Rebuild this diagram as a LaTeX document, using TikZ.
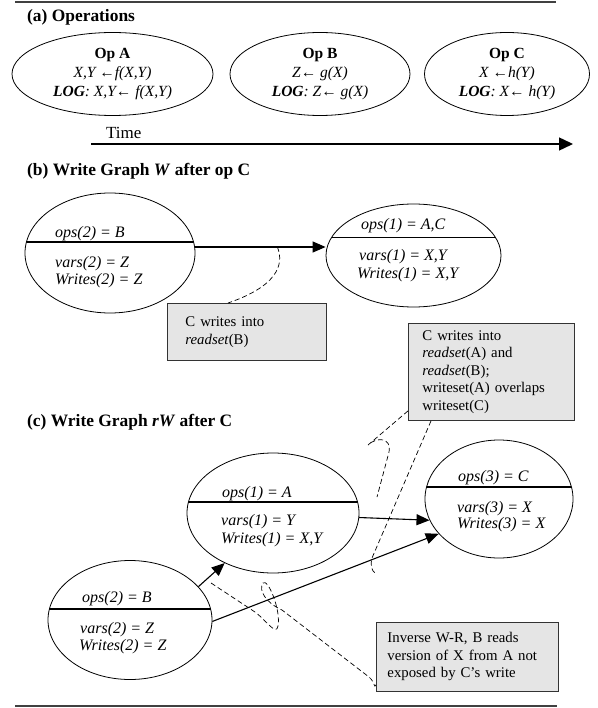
\documentclass[tikz,border=0pt]{standalone}
\usepackage{fontspec}
\setmainfont{Liberation Serif}
\usepackage{tikz}
\usetikzlibrary{shapes.geometric,arrows.meta,positioning}

\begin{document}
\begin{tikzpicture}[
    x=1pt, y=-1pt,
    opnode/.style={ellipse, draw, line width=0.8pt, inner sep=0pt, minimum height=83pt, align=center, font=\fontsize{15.5}{19}\selectfont},
    splitop/.style={ellipse, draw, line width=0.8pt, inner sep=0pt, path picture={\draw[line width=1.1pt] ([yshift=#1]path picture bounding box.west) -- ([yshift=#1]path picture bounding box.east);}},
    optext/.style={anchor=base west, inner sep=0pt, font=\fontsize{16}{19}\selectfont\itshape},
    title/.style={anchor=base west, inner sep=0pt, font=\fontsize{17.4}{21}\selectfont\bfseries},
    notebox/.style={draw=black!80, line width=0.9pt, fill=black!10, anchor=north west, inner xsep=14pt, inner ysep=4pt, align=left, font=\fontsize{14.8}{17.5}\selectfont},
    arr/.style={-{Triangle[length=13pt, width=11pt]}, line width=1.1pt},
    callout/.style={dash pattern=on 5pt off 3pt, line width=0.7pt},
    rule/.style={line width=1.6pt, black!75}
]
\useasboundingbox (0,0) rectangle (597,708);

% frame rules
\draw[rule] (15,2) -- (556,2);
\draw[rule] (15,706) -- (557,706);

% (a) operations
\node[title] (ta) at (27,22) {(a) Operations};
\node[opnode, minimum width=201pt] (opA) at (112.5,74) {\textbf{Op A}\\\textit{X,Y ←f(X,Y)}\\\textit{\textbf{LOG}: X,Y← f(X,Y)}};
\node[opnode, minimum width=180pt] (opB) at (320,74) {\textbf{Op B}\\\textit{Z← g(X)}\\\textit{\textbf{LOG}: Z←  g(X)}};
\node[opnode, minimum width=165pt] (opC) at (507,74) {\textbf{Op C}\\\textit{X ←h(Y)}\\\textit{\textbf{LOG}: X← h(Y)}};

\node[anchor=base west, inner sep=0pt, font=\fontsize{17}{20}\selectfont] (time) at (106,139) {Time};
\coordinate (t0) at (91,144);
\coordinate (t1) at (573,144);
\draw[-{Triangle[length=14pt, width=13pt]}, line width=1.4pt] (t0) -- (t1);

% (b) write graph W
\node[title] (tb) at (27,176) {(b) Write Graph \textit{W} after op C};
\node[splitop=11pt, minimum width=170pt, minimum height=120pt] (wB) at (110,253) {};
\node[optext] (wBo) at (55,237) {ops(2) = B};
\node[optext] (wBv) at (55,267) {vars(2) = Z};
\node[optext] (wBw) at (55,284) {Writes(2) = Z};

\node[splitop=18pt, minimum width=175pt, minimum height=103pt] (wA) at (413.5,255.5) {};
\node[optext] (wAo) at (361,230) {ops(1) = A,C};
\node[optext] (wAv) at (359,261) {vars(1) = X,Y};
\node[optext] (wAw) at (357,278) {Writes(1) = X,Y};

\draw[arr] ([yshift=6pt]wB.east) -- coordinate[pos=0.63] (wcut) ([yshift=8.5pt]wA.west);

\node[notebox, text width=123pt, inner xsep=18pt, minimum height=57pt] (nb1) at (167,303) {C writes into\\\textit{readset}(B)};
\draw[callout] (wcut) .. controls (285,266) and (275,287) .. ([xshift=61pt]nb1.north west);

\node[notebox, text width=138pt, minimum height=97pt] (nb2) at (408,323) {C writes into\\\textit{readset}(A) and\\\textit{readset}(B);\\writeset(A) overlaps\\writeset(C)};

% (c) write graph rW
\node[title] (tc) at (27,426) {(c) Write Graph \textit{rW} after C};

\node[splitop=11pt, minimum width=172pt, minimum height=120pt] (rwA) at (273,513) {};
\node[optext] (rwAo) at (222,497) {ops(1) = A};
\node[optext] (rwAv) at (221,525) {vars(1) = Y};
\node[optext] (rwAw) at (221,543) {Writes(1) = X,Y};

\node[splitop=11pt, minimum width=164pt, minimum height=119pt] (rwB) at (130,620) {};
\node[optext] (rwBo) at (82,602) {ops(2) = B};
\node[optext] (rwBv) at (80,633) {vars(2) = Z};
\node[optext] (rwBw) at (79,650) {Writes(2) = Z};

\node[splitop=12pt, minimum width=148pt, minimum height=118pt] (rwC) at (499,499) {};
\node[optext] (rwCo) at (458,481) {ops(3) = C};
\node[optext] (rwCv) at (457,512) {vars(3) = X};
\node[optext] (rwCw) at (457,528) {Writes(3) = X};

\draw[arr] (rwB.26) -- (rwA.226);
\draw[arr] (rwA.-3) -- (rwC.197);
\draw[arr] (rwB.-1) -- (rwC.210);

\node[notebox, text width=160pt, inner xsep=11pt, minimum height=69pt] (nb3) at (376,622) {Inverse W-R, B reads\\version of X from A not\\exposed by C’s write};

% dashed callouts
\coordinate (hk) at (377,497);
\draw[callout] ([yshift=10pt]nb2.south west) -- (368,445) .. controls (376,437) and (392,437) .. (389,452) -- (hk);
\coordinate (hk2) at (375,573);
\draw[callout] ([xshift=23pt]nb2.south west) -- (372,558) .. controls (370,566) and (372,571) .. (hk2);
\coordinate (lp) at (211,583);
\draw[callout] (lp) -- (255,612) .. controls (268,622) and (276,636) .. (278,626)
    .. controls (281,610) and (268,578) .. (263,583) .. controls (258,590) and (266,603) .. (282,610)
    -- (369,677) .. controls (375,682) and (374,689) .. ([yshift=7pt]nb3.south west);
\end{tikzpicture}
\end{document}
